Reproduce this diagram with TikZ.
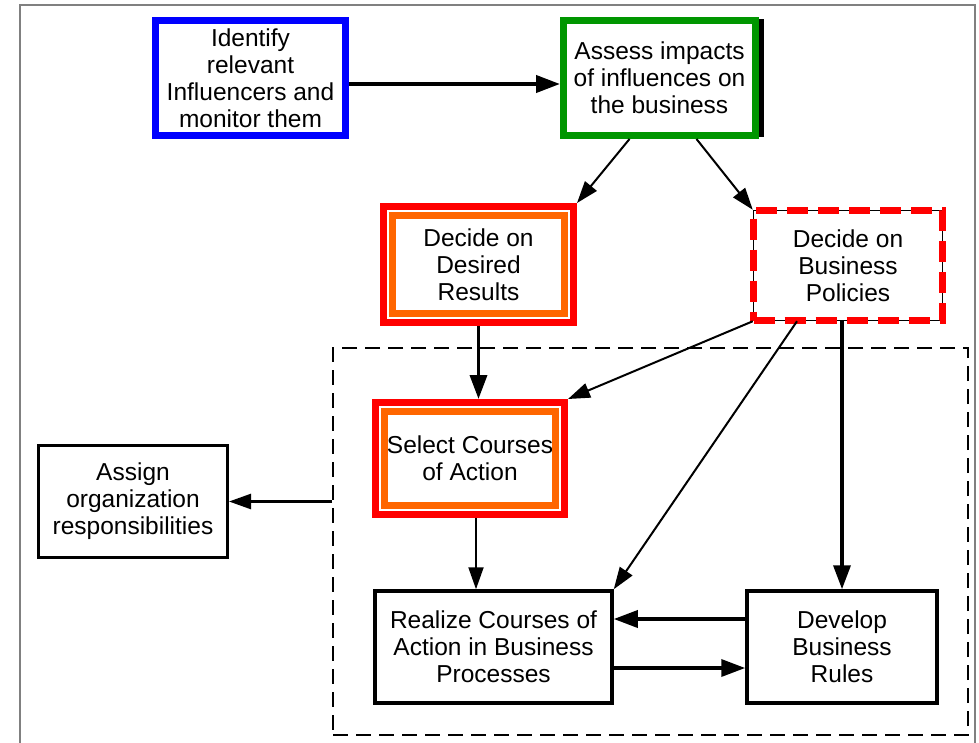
\documentclass[tikz,border=0pt]{standalone}
\usepackage{fontspec}
\setmainfont{Liberation Sans}
\usetikzlibrary{arrows.meta}
\definecolor{idblue}{RGB}{0,0,255}
\definecolor{asgreen}{RGB}{0,150,0}
\definecolor{decred}{RGB}{255,0,0}
\definecolor{decorange}{RGB}{255,102,0}
\begin{document}
\begin{tikzpicture}[x=1pt, y=-1pt]
        \tikzstyle{flow}=[line width=2, -{Triangle[length=22pt, width=15pt]}];
        \tikzstyle{bigflow}=[line width=3.5, -{Triangle[length=24pt, width=17pt]}];
        \useasboundingbox (0,0) rectangle (979,742);
        \draw[gray, line width=2] (20,760) -- (20,5) -- (975,5) -- (975,760);
        \begin{scope}[font=\fontsize{24.5}{27}\selectfont]
                \tikzstyle{every node}=[rectangle, align=center, inner sep=0, fill=white];
                \tikzstyle{box}=[draw, line width=3.5, minimum width=190, minimum height=115];
                \tikzstyle{policy}=[draw, line width=1.5, minimum width=189, minimum height=110, postaction={draw=decred, line width=7, dash pattern=on 21pt off 10pt}];
                \node (grp) [draw, fill=none, line width=2, dash pattern=on 15pt off 8pt, minimum width=635, minimum height=387] at (650.5,541.5) {};
                \node (id) [box, draw=idblue, line width=7] at (250.5,78) {Identify\\relevant\\Influencers and\\monitor them};
                \node (as) [box, draw=asgreen, line width=7, minimum width=192] at (659.5,78) {Assess impacts\\of influences on\\the business};
                \draw[line width=5] ([xshift=2.5pt, yshift=-2pt]as.north east) -- ([xshift=2.5pt, yshift=2pt]as.south east);
                \node (dr) [box, draw=decred, line width=7, minimum height=116] at (478.5,264.5) {Decide on\\Desired\\Results};
                \draw[decorange, line width=7] ([shift={(12.5,12.5)}]dr.north west) rectangle ([shift={(-12.5,-12.5)}]dr.south east);
                \node (bp) [policy] at (848,265.5) {Decide on\\Business\\Policies};
                \node (sc) [box, draw=decred, line width=7, minimum width=189, minimum height=112] at (470,458.5) {Select Courses\\of Action};
                \draw[decorange, line width=7] ([shift={(12.5,12.5)}]sc.north west) rectangle ([shift={(-12.5,-12.5)}]sc.south east);
                \node (ar) [box, line width=3, minimum width=189, minimum height=112] at (133,501.5) {Assign\\organization\\responsibilities};
                \node (rz) [box, minimum width=237, minimum height=112] at (493.5,647) {Realize Courses of\\Action in Business\\Processes};
                \node (dv) [box, minimum width=190, minimum height=112] at (842,647) {Develop\\Business\\Rules};
        \end{scope}

        \draw[bigflow, line width=4] ([yshift=-6pt]id.east) -- ([yshift=-6pt]as.west);
        \draw[flow] ([xshift=-30pt]as.south) -- (dr.north east);
        \draw[flow] ([xshift=37pt]as.south) -- (bp.north west);
        \draw[bigflow] (dr.south) -- (dr.south |- sc.north);
        \draw[flow] (bp.south west) -- (sc.north east);
        \draw[flow] ([xshift=-51pt]bp.south) -- (rz.north east);
        \draw[bigflow] (dv.north |- bp.south) -- (dv.north);
        \draw[flow] ([xshift=6pt]sc.south) -- ([xshift=6pt]sc.south |- rz.north);
        \draw[bigflow] ([yshift=28pt]dv.west) -- ([yshift=28pt]rz.east);
        \draw[bigflow] ([yshift=-21pt]rz.east) -- ([yshift=-21pt]dv.west);
        \draw[flow, line width=2.5] (grp.west |- ar.east) -- (ar.east);
\end{tikzpicture}
\end{document}
